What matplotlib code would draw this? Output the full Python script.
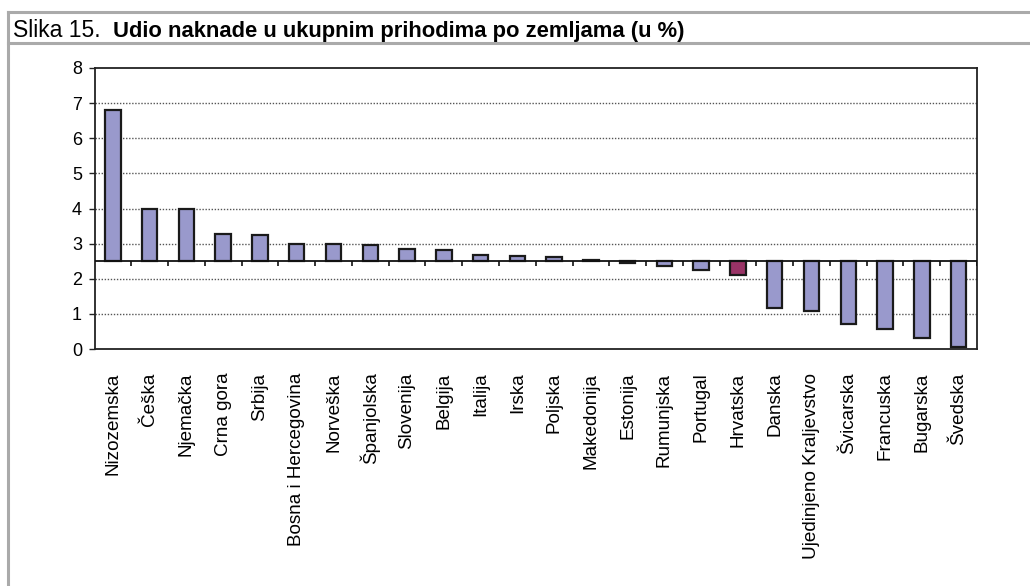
import matplotlib
matplotlib.use("Agg")
import matplotlib.pyplot as plt
from matplotlib.lines import Line2D
import numpy as np

countries = ["Nizozemska", "Češka", "Njemačka", "Crna gora", "Srbija",
             "Bosna i Hercegovina", "Norveška", "Španjolska", "Slovenija",
             "Belgija", "Italija", "Irska", "Poljska", "Makedonija", "Estonija",
             "Rumunjska", "Portugal", "Hrvatska", "Danska",
             "Ujedinjeno Kraljevstvo", "Švicarska", "Francuska", "Bugarska",
             "Švedska"]
values = [6.8, 4.0, 4.0, 3.27, 3.25, 3.0, 3.0, 2.97, 2.86, 2.82, 2.67, 2.64,
          2.63, 2.53, 2.44, 2.35, 2.25, 2.1, 1.17, 1.08, 0.7, 0.56, 0.3, 0.07]
baseline = 2.5
highlight = "Hrvatska"
yticks = [0, 1, 2, 3, 4, 5, 6, 7, 8]

W, H = 1030, 586
fig = plt.figure(figsize=(W / 100, H / 100), dpi=100)
plt.rcParams['font.family'] = ['Liberation Sans', 'DejaVu Sans']

left, right, top, bottom = 94.5, 977, 68, 349
ax = fig.add_axes([left / W, 1 - bottom / H, (right - left) / W, (bottom - top) / H])

x = np.arange(len(countries))
heights = [v - baseline for v in values]
colors = ["#993366" if c == highlight else "#9999CC" for c in countries]
ax.bar(x, heights, bottom=baseline, width=0.42, color=colors,
       edgecolor="#1a1a1a", linewidth=1.6, zorder=3)

ax.set_xlim(-0.5, len(countries) - 0.5)
ax.set_ylim(0, 8)
ax.set_yticks(yticks)
ax.set_yticklabels([str(t) for t in yticks], fontsize=13)
ax.tick_params(axis='y', length=4, width=1, pad=5, color="#222222")
ax.set_xticks(x)
ax.set_xticklabels(countries, rotation=90, fontsize=13.6, va='top')
ax.tick_params(axis='x', length=0, pad=17)

for t in yticks[1:-1]:
    ax.axhline(t, color="#555555", linestyle=(0, (1, 1.2)), linewidth=1.0, zorder=1)

ax.axhline(baseline, color="#111111", linewidth=1.3, zorder=4)
bounds = np.arange(len(countries) + 1) - 0.5
ax.vlines(bounds[1:], baseline - 0.13, baseline, color="#111111", linewidth=1.2, zorder=4)

for s in ax.spines.values():
    s.set_color("#222222")
    s.set_linewidth(1.3)

# outer frame
def fig_line(x0, y0, x1, y1):
    fig.add_artist(Line2D([x0 / W, x1 / W], [1 - y0 / H, 1 - y1 / H],
                          color="#AAAAAA", linewidth=2.2, transform=fig.transFigure))

fig_line(8, 12, W, 12)
fig_line(8, 43, W, 43)
fig_line(8, 12, 8, H)

t1 = fig.text(13 / W, 1 - 37 / H, "Slika 15.", fontsize=16.5, va='baseline', ha='left')
fig.canvas.draw()
bb = t1.get_window_extent()
fig.text((bb.x1 + 12) / W, 1 - 37 / H, "Udio naknade u ukupnim prihodima po zemljama (u %)",
         fontsize=15.8, fontweight='bold', va='baseline', ha='left')

fig.savefig("out.png", dpi=100)
